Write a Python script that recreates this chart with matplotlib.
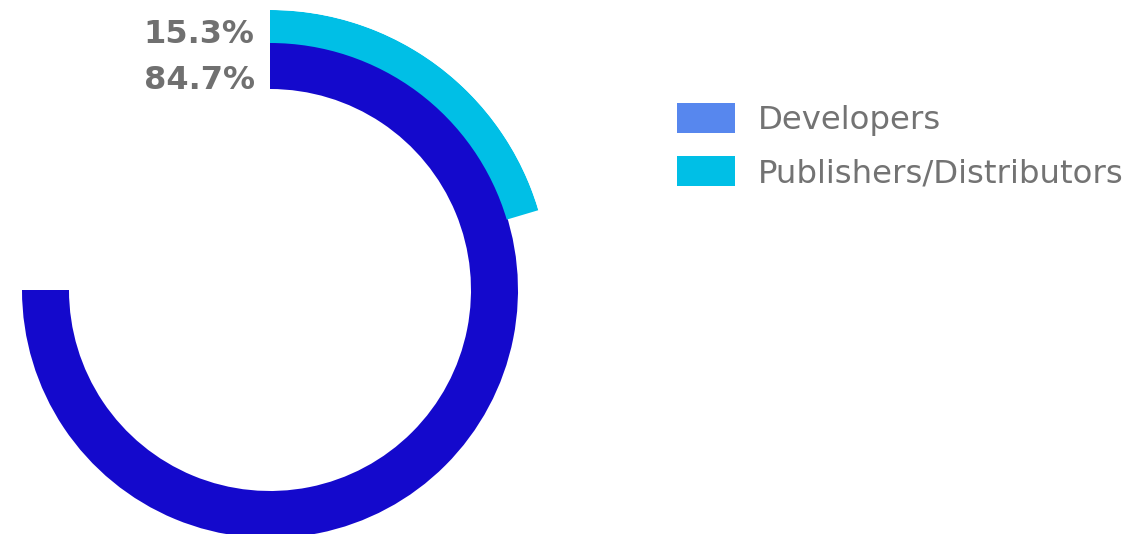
import numpy as np
import matplotlib
matplotlib.use('Agg')
import matplotlib.pyplot as plt
from matplotlib.patches import Patch

# data
series = ['Developers', 'Publishers/Distributors']
values = [84.7, 15.3]          # percent
ring_colors = ['#1409cc', '#00bfe6']
legend_colors = ['#5787ee', '#00bfe6']

W, H = 1133, 534
fig = plt.figure(figsize=(W / 100, H / 100), dpi=100)

# polar axes centred at (270, 290) px from top-left
cx, cy, rmax = 270, 290, 280
ax = fig.add_axes([(cx - rmax) / W, (H - cy - rmax) / H, 2 * rmax / W, 2 * rmax / H],
                  projection='polar')
ax.set_theta_zero_location('N')
ax.set_theta_direction(-1)
ax.set_ylim(0, rmax)
ax.axis('off')

# angle axis: 75 units over a full turn, bars cannot sweep past 3/4 of it
theta_max = 75.0
cap = 0.75 * theta_max
rings = [(201, 47), (247, 33)]   # (inner radius, thickness)

for v, col, (r0, dr) in zip(values, ring_colors, rings):
    sweep = min(v, cap) / theta_max * 2 * np.pi
    ax.bar(0, dr, width=sweep, bottom=r0, align='edge', color=col, edgecolor='none')
    ax.annotate('{:.1f}%'.format(v), xy=(0, r0), xytext=(-11, 0),
                textcoords='offset points', ha='right', va='baseline',
                fontsize=23, fontweight='bold', color='#707070')

handles = [Patch(facecolor=c, edgecolor='none') for c in legend_colors]
leg = fig.legend(handles, series, loc='upper left',
                 bbox_to_anchor=(677 / W, 1 - 103 / H), frameon=False,
                 fontsize=23.3, handlelength=1.8, handleheight=1.06,
                 handletextpad=0.7, labelspacing=0.61,
                 borderpad=0, borderaxespad=0)
for t in leg.get_texts():
    t.set_color('#737373')

fig.savefig('out.png', dpi=100)
